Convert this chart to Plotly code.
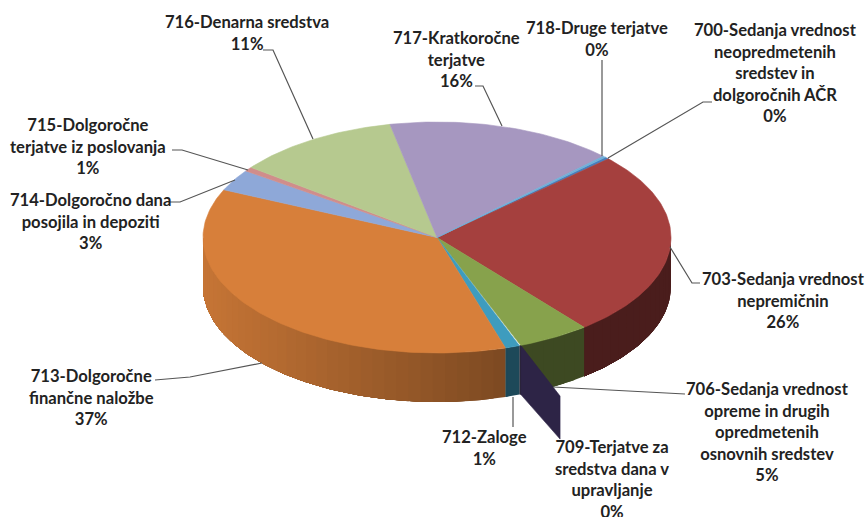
import math
import plotly.graph_objects as go

# ---- data ----
codes = ["700", "703", "706", "709", "712", "713", "714", "715", "716", "717", "718"]
shares = [0.3, 26.1, 5.0, 0.1, 1.0, 36.5, 3.0, 0.6, 11.4, 15.8, 0.2]
labels = [
    "700-Sedanja vrednost<br>neopredmetenih<br>sredstev in<br>dolgoročnih AČR<br>0%",
    "703-Sedanja vrednost<br>nepremičnin<br>26%",
    "706-Sedanja vrednost<br>opreme in drugih<br>opredmetenih<br>osnovnih sredstev<br>5%",
    "709-Terjatve za<br>sredstva dana v<br>upravljanje<br>0%",
    "712-Zaloge<br>1%",
    "713-Dolgoročne<br>finančne naložbe<br>37%",
    "714-Dolgoročno dana<br>posojila in depoziti<br>3%",
    "715-Dolgoročne<br>terjatve iz poslovanja<br>1%",
    "716-Denarna sredstva<br>11%",
    "717-Kratkoročne<br>terjatve<br>16%",
    "718-Druge terjatve<br>0%",
]

# ---- style and layout ----
top_colors = ["#4A7EBB", "#A5403E", "#87A24C", "#2D2446", "#3E9CBE", "#D77F3A",
              "#8EA8D8", "#D08D8B", "#B6C98F", "#A697C0", "#6FB0D8"]
wall_left = [0.45, 0.45, 0.45, 0.45, 0.47, 0.58, 0.6, 0.6, 0.6, 0.6, 0.6]
wall_right = [0.45, 0.47, 0.45, 0.45, 0.47, 0.92, 0.6, 0.6, 0.6, 0.6, 0.6]
label_pos = [(775, 73), (783, 300), (767, 432), (612, 479), (484, 448), (91, 397),
             (90, 221), (88, 146), (247, 33), (456, 59), (597, 39)]
leaders = [
    [(608, 158), (703, 102), (712, 102)],
    [(670, 247), (692, 283), (700, 283)],
    [(553, 387), (680, 394), (685, 394)],
    [],
    [(513, 397), (513, 427)],
    [(262, 363), (190, 377), (155, 380)],
    [(235, 180), (180, 202), (170, 202)],
    [(248, 170), (182, 150), (172, 150)],
    [(313, 139), (273, 50), (263, 50)],
    [(502, 126), (483, 86), (475, 86)],
    [(602, 156), (602, 60)],
]
CX, CY, RX, RY, DEPTH = 437, 237.5, 234, 115.5, 49
START = 46.0
PANEL_SCALE = 1.47


def rim(t, r=1.0, drop=0):
    a = math.radians(t)
    return CX + r * RX * math.sin(a), CY - r * RY * math.cos(a) + drop


def arc(t0, t1, drop=0):
    n = max(2, int(abs(t1 - t0)) + 2)
    return [rim(t0 + (t1 - t0) * i / (n - 1), 1.0, drop) for i in range(n)]


def rgb(color, k):
    return "rgb(%d,%d,%d)" % tuple(round(int(color[i:i + 2], 16) * k) for i in (1, 3, 5))


def poly(fig, pts, color, edge=0.6):
    xs = [p[0] for p in pts] + [pts[0][0]]
    ys = [p[1] for p in pts] + [pts[0][1]]
    fig.add_trace(go.Scatter(x=xs, y=ys, mode="lines", fill="toself", fillcolor=color,
                             line=dict(color=color, width=edge), hoverinfo="skip",
                             showlegend=False))


spans = []
t = START
for s in shares:
    spans.append((t, t + s * 3.6))
    t += s * 3.6

fig = go.Figure()

# outer walls of the front half; each band runs on to the end of its slice and
# is overpainted by the next, so the shading has no seams
for i, (a, b) in enumerate(spans):
    lo, hi = max(a, 90), min(b, 270)
    if hi <= lo:
        continue
    cur = lo
    while cur < hi:
        nxt = min(cur + 3, hi)
        x_mid = rim((cur + nxt) / 2)[0]
        frac = (x_mid - (CX - RX)) / (2 * RX)
        k = wall_right[i] + (wall_left[i] - wall_right[i]) * min(1, frac / 0.645)
        poly(fig, arc(cur, hi) + arc(hi, cur, DEPTH), rgb(top_colors[i], k), edge=0)
        cur = nxt

# the stray inner face of the thin 709 slice
t709 = spans[3][0]
poly(fig, [rim(t709), rim(t709, PANEL_SCALE), rim(t709, PANEL_SCALE, DEPTH - 6), rim(t709, 1.0, DEPTH)],
     top_colors[3])

# the top face
for i, (a, b) in enumerate(spans):
    if i != 3:
        poly(fig, [(CX, CY)] + arc(a, b), top_colors[i])

# leader lines
for path in leaders:
    if path:
        fig.add_trace(go.Scatter(x=[p[0] for p in path], y=[p[1] for p in path], mode="lines",
                                 line=dict(color="#555555", width=1.2), hoverinfo="skip",
                                 showlegend=False))

for text, (x, y) in zip(labels, label_pos):
    fig.add_annotation(x=x, y=y, text="<b>%s</b>" % text, showarrow=False, align="center",
                       xanchor="center", yanchor="middle",
                       font=dict(family="Lato", size=16.6, color="#222222"))

fig.update_layout(width=865, height=517, margin=dict(l=0, r=0, t=0, b=0), showlegend=False,
                  paper_bgcolor="white", plot_bgcolor="white",
                  xaxis=dict(range=[0, 865], visible=False, fixedrange=True),
                  yaxis=dict(range=[517, 0], visible=False, fixedrange=True))
fig.write_html("out.html", config=dict(displayModeBar=False),
               post_script="document.body.style.margin='0';document.body.style.overflow='hidden';")
